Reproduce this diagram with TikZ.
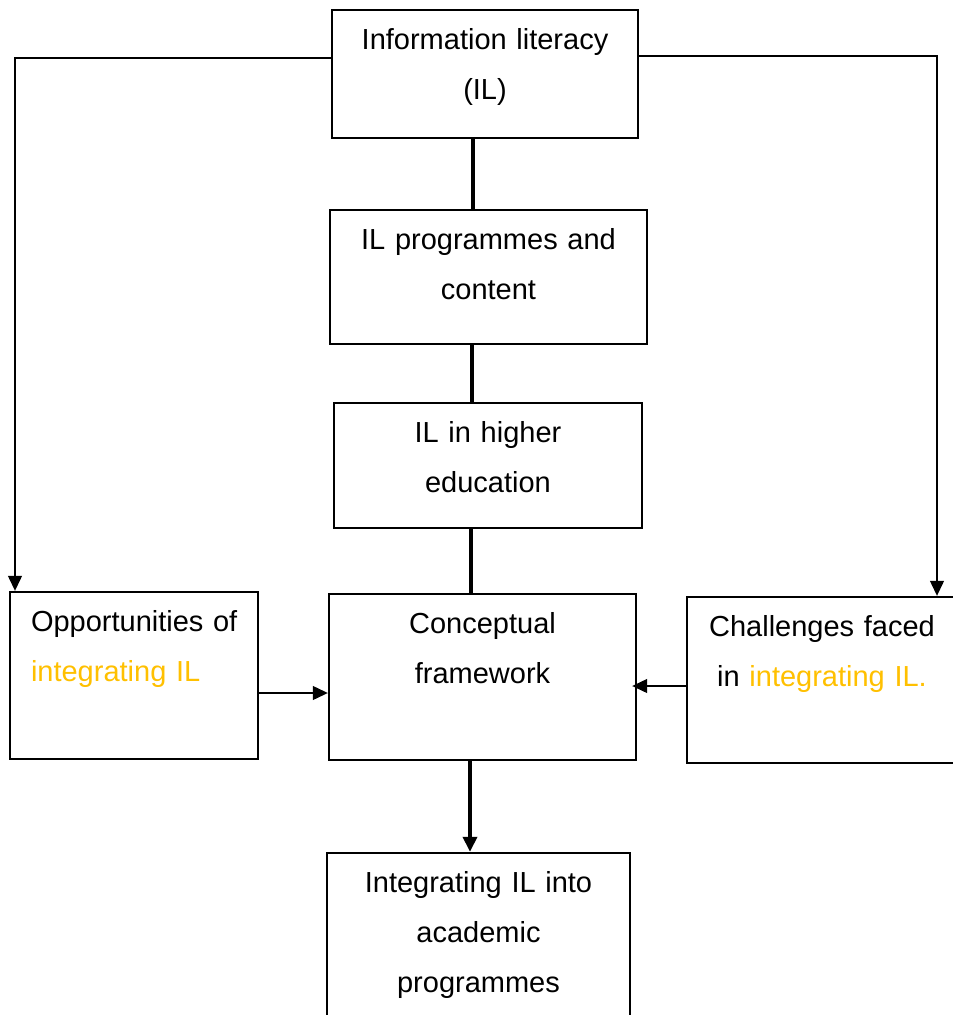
\documentclass[tikz,border=0pt]{standalone}
\usepackage{fontspec}
\setmainfont{Liberation Sans}
\usepackage{tikz}
\usetikzlibrary{arrows.meta}
\definecolor{ilgold}{RGB}{255,192,0}

\begin{document}
\begin{tikzpicture}[x=1pt,y=-1pt,
	ilbox/.style={draw,line width=2.4pt,inner sep=0pt,align=center,text height=39pt,font=\fontsize{29}{50}\selectfont},
	spine/.style={line width=3.6pt},
	link/.style={line width=1.2pt,-{Triangle[length=15pt,width=14pt]}}]
	\clip (0,0) rectangle (953,1015);
	\fill[white] (0,0) rectangle (953,1015);
	\node[ilbox,text width=306pt,text depth=89pt] (il) at (485,74) {Information literacy\\(IL)};
	\node[ilbox,text width=317pt,text depth=95pt] (prog) at (488.5,277) {IL programmes and\\content};
	\node[ilbox,text width=308pt,text depth=86pt] (higher) at (488,465.5) {IL in higher\\education};
	\node[ilbox,text width=307pt,text depth=127pt] (concept) at (482.5,677) {Conceptual\\framework};
	\node[ilbox,align=left,inner xsep=21pt,text width=206pt,text depth=128pt] (opp) at (134,675.5) {\mbox{Opportunities of}\\\textcolor{ilgold}{integrating IL}};
	\node[ilbox,text width=270pt,text depth=127pt] (chal) at (822,680) {Challenges faced\\in \textcolor{ilgold}{integrating IL.}};
	\node[ilbox,text width=303pt,text depth=151pt] (integ) at (478.5,948) {Integrating IL into\\academic\\programmes};
	\coordinate (lturn) at (15,58);
	\coordinate (rturn) at (937,56);
	\draw[spine] ([xshift=-12pt]il.south) -- ([xshift=-12pt]il.south |- prog.north);
	\draw[spine] ([xshift=-16.5pt]prog.south) -- ([xshift=-16.5pt]prog.south |- higher.north);
	\draw[spine] ([xshift=-17pt]higher.south) -- ([xshift=-17pt]higher.south |- concept.north);
	\draw[spine,-{Triangle[length=15pt,width=14pt]}] ([xshift=-12.5pt]concept.south) -- ([xshift=-12.5pt]concept.south |- integ.north);
	\draw[link] ([yshift=-17.5pt]opp.east) -- ([yshift=-17.5pt]opp.east -| concept.west);
	\draw[link,shorten >=-5pt] ([yshift=-6pt]chal.west) -- ([yshift=-6pt]chal.west -| concept.east);
	\draw[link] ([yshift=16pt]il.west) -- (lturn) -- (lturn |- opp.north);
	\draw[link] ([yshift=18pt]il.east) -- (rturn) -- (rturn |- chal.north);
\end{tikzpicture}
\end{document}
